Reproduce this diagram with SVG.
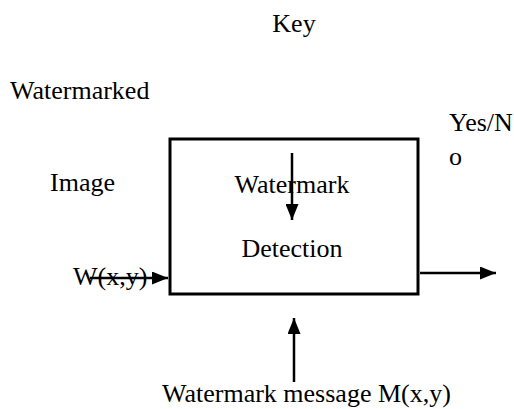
<svg xmlns="http://www.w3.org/2000/svg" width="514" height="409" viewBox="0 0 514 409">
<defs>
<style>
text{font-family:"Liberation Serif","Times New Roman",serif;font-size:26px;fill:#000}
.ln{stroke:#000;stroke-width:2.5;fill:none}
</style>
<marker id="ah" viewBox="0 0 16 13" refX="16" refY="6.5" markerWidth="16" markerHeight="13" orient="auto" markerUnits="userSpaceOnUse">
<path d="M0,0 L16,6.5 L0,13 z" fill="#000"/>
</marker>
</defs>
<rect width="514" height="409" fill="#fff"/>
<g id="labels">
<text x="294" y="32" text-anchor="middle">Key</text>
<text x="10" y="99">Watermarked</text>
<text x="50" y="191">Image</text>
<text x="449" y="131">Yes/N</text>
<text x="449" y="165">o</text>
<text x="162" y="402">Watermark message M(x,y)</text>
</g>
<g id="detector">
<rect x="170" y="139" width="248" height="155" fill="none" stroke="#000" stroke-width="3"/>
<text x="292" y="193" text-anchor="middle">Watermark</text>
<text x="292" y="257" text-anchor="middle">Detection</text>
</g>
<g id="input">
<text x="73" y="285">W(x,y)</text>
</g>
<g id="connectors">
<line class="ln" x1="292" y1="153" x2="292" y2="220" marker-end="url(#ah)"/>
<line class="ln" x1="90" y1="278" x2="168" y2="278" marker-end="url(#ah)"/>
<line class="ln" x1="420" y1="273" x2="496" y2="273" marker-end="url(#ah)"/>
<line class="ln" x1="294" y1="382" x2="294" y2="318" marker-end="url(#ah)"/>
</g>
</svg>
